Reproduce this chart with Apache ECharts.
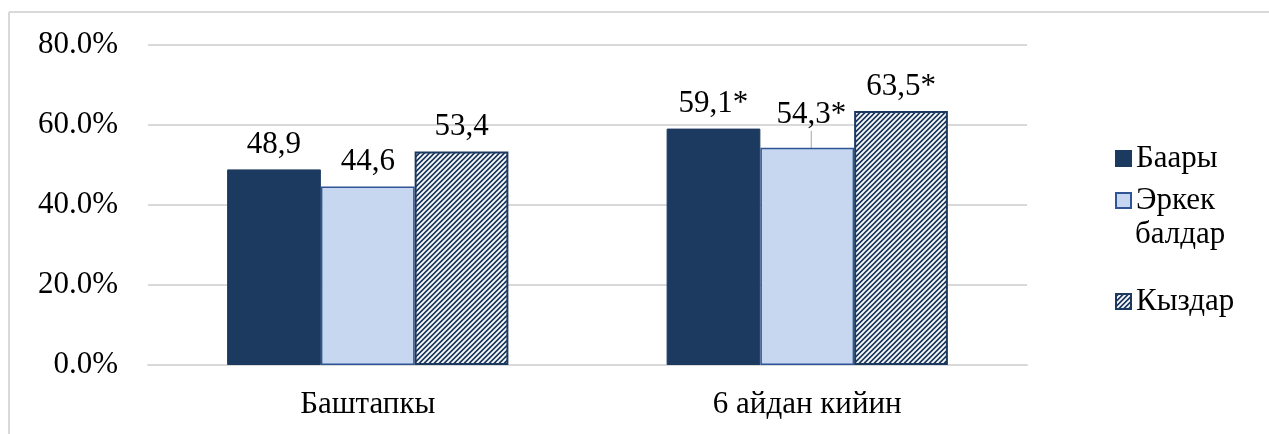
<!DOCTYPE html>
<html>
<head>
<meta charset="utf-8">
<script src="https://cdn.jsdelivr.net/npm/echarts@6/dist/echarts.min.js"></script>
<style>
  html, body { margin: 0; padding: 0; background: #fff; }
  #chart { width: 1269px; height: 434px; }
</style>
</head>
<body>
<div id="chart"></div>
<script>
var categories = ['Баштапкы', '6 айдан кийин'];
var seriesNames = ['Баары', 'Эркек балдар', 'Кыздар'];
var allValues = [48.9, 59.1];
var boysValues = [44.6, 54.3];
var girlsValues = [53.4, 63.5];
var allLabels = ['48,9', '59,1*'];
var boysLabels = ['44,6', '54,3*'];
var girlsLabels = ['53,4', '63,5*'];
var yTicks = [0, 20, 40, 60, 80];

var NAVY = '#1c3a5f';
var LIGHT = '#c6d7ef';
var FONT = 'Liberation Serif';
var FS = 31;

// diagonal hatch for the girls series
function makeHatch() {
    var s = 5;
    var c = document.createElement('canvas');
    c.width = s; c.height = s;
    var ctx = c.getContext('2d');
    ctx.fillStyle = NAVY;
    ctx.fillRect(0, 0, s, s);
    ctx.strokeStyle = '#ffffff';
    ctx.lineWidth = s / (2 * Math.SQRT2);
    ctx.beginPath();
    for (var k = -1; k <= 1; k++) {
        ctx.moveTo(k * s - 1, s + 1);
        ctx.lineTo(k * s + s + 1, -1);
    }
    ctx.stroke();
    return c;
}
var hatch = { image: makeHatch(), repeat: 'repeat' };

function labelFrom(arr) {
    return function (p) { return arr[p.dataIndex]; };
}

var labelStyle = {
    show: true,
    position: 'top',
    distance: 9,
    fontFamily: FONT,
    fontSize: FS,
    color: '#000'
};

// only the second boys label is lifted with a leader line
var boysData = boysValues.map(function (v, i) {
    return i === 1 ? { value: v, labelLine: { show: true } } : v;
});

var legendText = { fontFamily: FONT, fontSize: FS, color: '#000' };

var chart = echarts.init(document.getElementById('chart'));
chart.setOption({
    animation: false,
    backgroundColor: '#fff',
    textStyle: { fontFamily: FONT },
    grid: { left: 148, right: 242, top: 45, bottom: 69 },
    graphic: [
        { type: 'line', shape: { x1: 9, y1: 12, x2: 1269, y2: 12 }, style: { stroke: '#d9d9d9', lineWidth: 2 }, silent: true },
        { type: 'line', shape: { x1: 9, y1: 12, x2: 9, y2: 434 }, style: { stroke: '#d9d9d9', lineWidth: 2 }, silent: true },
        { type: 'text', left: 1135, top: 219, style: { text: 'балдар', font: FS + 'px ' + FONT, fill: '#000' }, silent: true }
    ],
    legend: [
        { data: [seriesNames[0]], icon: 'rect', orient: 'vertical', left: 1110, top: 138, itemWidth: 15, itemHeight: 15, itemGap: 0, textStyle: legendText },
        { data: [seriesNames[1]], icon: 'rect', orient: 'vertical', left: 1110, top: 180, itemWidth: 15, itemHeight: 15, itemGap: 0,
          formatter: function () { return 'Эркек'; }, textStyle: legendText },
        { data: [seriesNames[2]], icon: 'rect', orient: 'vertical', left: 1110, top: 281, itemWidth: 15, itemHeight: 15, itemGap: 0, textStyle: legendText }
    ],
    xAxis: {
        type: 'category',
        data: categories,
        axisLine: { show: true, lineStyle: { color: '#d9d9d9', width: 2 } },
        axisTick: { show: false },
        axisLabel: { fontFamily: FONT, fontSize: FS, color: '#000', margin: 24 }
    },
    yAxis: {
        type: 'value',
        min: yTicks[0],
        max: yTicks[yTicks.length - 1],
        interval: 20,
        axisLine: { show: false },
        axisTick: { show: false },
        splitLine: { lineStyle: { color: '#d9d9d9', width: 2 } },
        axisLabel: {
            fontFamily: FONT, fontSize: FS, color: '#000', margin: 30,
            formatter: function (v) { return v.toFixed(1) + '%'; }
        }
    },
    series: [
        {
            name: seriesNames[0], type: 'bar', data: allValues,
            barGap: '0%', barCategoryGap: '36%',
            itemStyle: { color: NAVY, borderColor: NAVY, borderWidth: 1 },
            label: Object.assign({}, labelStyle, { formatter: labelFrom(allLabels) })
        },
        {
            name: seriesNames[1], type: 'bar', data: boysData,
            itemStyle: { color: LIGHT, borderColor: '#2f5597', borderWidth: 1.5 },
            label: Object.assign({}, labelStyle, { formatter: labelFrom(boysLabels) }),
            labelLine: { show: false, lineStyle: { color: '#a6a6a6', width: 1 } },
            labelLayout: function (p) {
                return p.dataIndex === 1 ? { dy: -8, dx: 4 } : {};
            }
        },
        {
            name: seriesNames[2], type: 'bar', data: girlsValues,
            itemStyle: { color: hatch, borderColor: NAVY, borderWidth: 2 },
            label: Object.assign({}, labelStyle, { formatter: labelFrom(girlsLabels) })
        }
    ]
});
</script>
</body>
</html>
